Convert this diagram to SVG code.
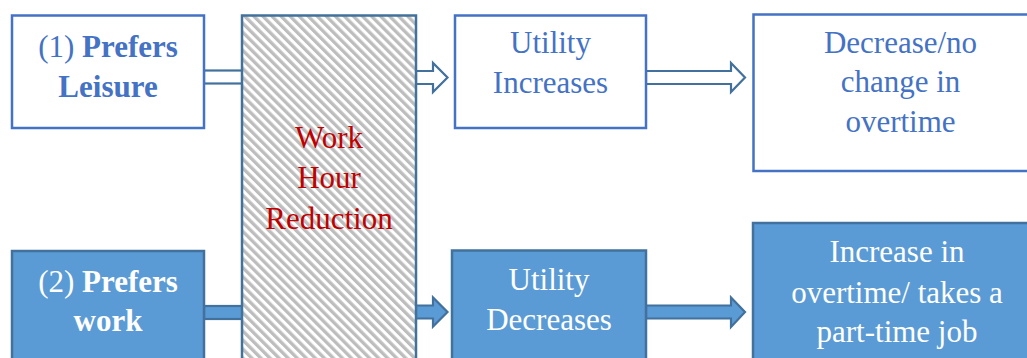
<svg xmlns="http://www.w3.org/2000/svg" width="1027" height="358" viewBox="0 0 1027 358">
<defs>
<pattern id="hatch" width="6.4" height="6.4" patternUnits="userSpaceOnUse" patternTransform="rotate(-45)">
<rect width="6.4" height="6.4" fill="#ffffff"/>
<rect width="3.3" height="6.4" fill="#bdbdbd"/>
</pattern>
<style>
.t{font-family:"Liberation Serif","Times New Roman",serif;font-size:31px;text-anchor:middle}
.blue{fill:#4472C4}
.white{fill:#ffffff}
.red{fill:#C00000}
.b{font-weight:bold}
.outl{fill:#ffffff;stroke:#4472C4;stroke-width:2.5}
.filled{fill:#5B9BD5;stroke:#41719C;stroke-width:2.5}
.hol{fill:#ffffff;stroke:#41719C;stroke-width:2.2;stroke-linejoin:miter}
.sol{fill:#5B9BD5;stroke:#41719C;stroke-width:2.2;stroke-linejoin:miter}
</style>
</defs>
<g id="connectors">
<rect class="hol" x="204" y="70.5" width="39" height="13"/>
<path class="hol" d="M416,71 H433 V63 L447.5,77.5 L433,92 V84 H416 Z"/>
<path class="hol" d="M646,71 H731 V63 L745,77.5 L731,92 V84 H646 Z"/>
<rect class="sol" x="204" y="306" width="39" height="13"/>
<path class="sol" d="M416,305.5 H433 V297.5 L447.5,312 L433,326.5 V318.5 H416 Z"/>
<path class="sol" d="M646,305.5 H731 V297.5 L745,312 L731,327 V318.5 H646 Z"/>
</g>
<g id="work-hour-reduction">
<rect x="242" y="15.5" width="174" height="360" fill="url(#hatch)" stroke="#41719C" stroke-width="2.5"/>
<text class="t red" x="329" y="147.5">Work</text>
<text class="t red" x="329" y="188">Hour</text>
<text class="t red" x="329" y="228.5">Reduction</text>
</g>
<g id="prefers-leisure">
<rect class="outl" x="12" y="15.5" width="192" height="112.5"/>
<text class="t blue" x="108" y="57"><tspan>(1) </tspan><tspan class="b">Prefers</tspan></text>
<text class="t blue b" x="108" y="97">Leisure</text>
</g>
<g id="utility-increases">
<rect class="outl" x="455" y="15.5" width="191" height="112.5"/>
<text class="t blue" x="550.5" y="52.5">Utility</text>
<text class="t blue" x="550.5" y="93">Increases</text>
</g>
<g id="decrease-overtime">
<rect class="outl" x="753.5" y="14.5" width="300" height="156.5"/>
<text class="t blue" x="900.5" y="52.5">Decrease/no</text>
<text class="t blue" x="900.5" y="92">change in</text>
<text class="t blue" x="900.5" y="132">overtime</text>
</g>
<g id="prefers-work">
<rect class="filled" x="12" y="251" width="192" height="130"/>
<text class="t white" x="108" y="291.5"><tspan>(2) </tspan><tspan class="b">Prefers</tspan></text>
<text class="t white b" x="108" y="331">work</text>
</g>
<g id="utility-decreases">
<rect class="filled" x="452" y="250.5" width="194" height="130"/>
<text class="t white" x="549" y="290">Utility</text>
<text class="t white" x="549" y="330">Decreases</text>
</g>
<g id="increase-overtime">
<rect class="filled" x="753" y="223" width="300" height="160"/>
<text class="t white" x="897" y="262">Increase in</text>
<text class="t white" x="897" y="302.5">overtime/ takes a</text>
<text class="t white" x="897" y="342">part-time job</text>
</g>
</svg>
